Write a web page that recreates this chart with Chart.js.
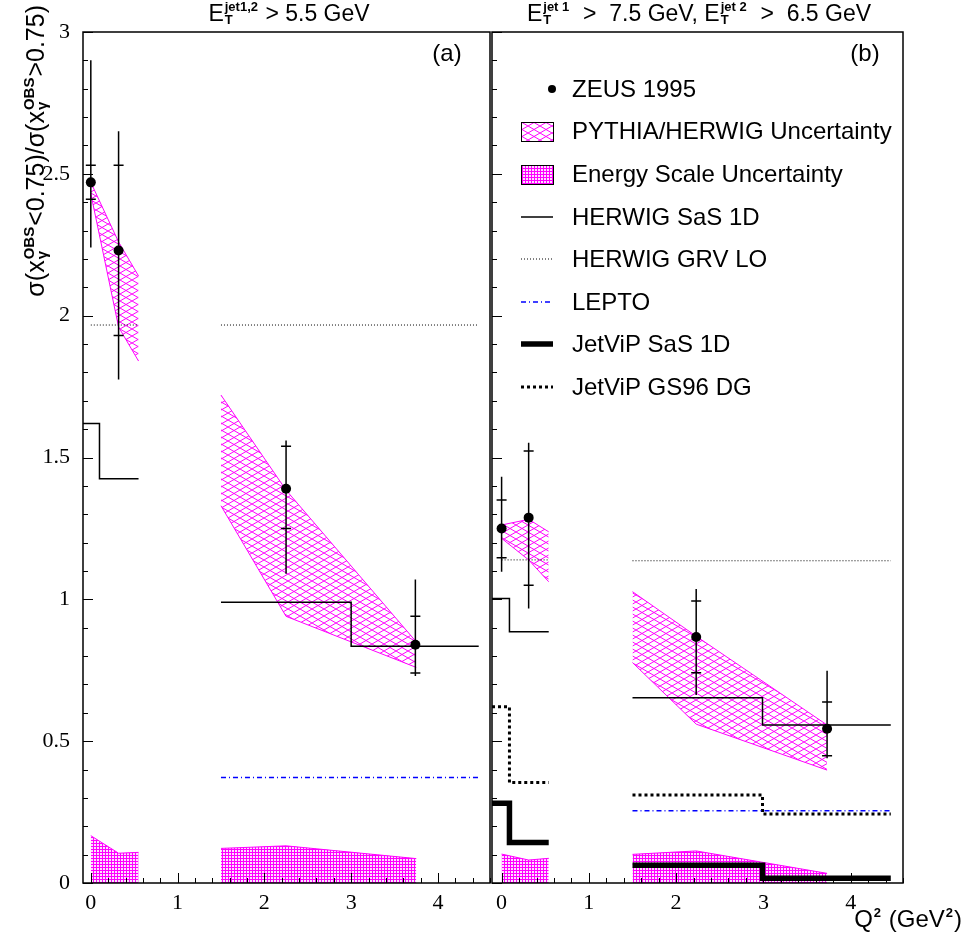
<!DOCTYPE html>
<html>
<head>
<meta charset="utf-8">
<script src="https://cdn.jsdelivr.net/npm/chart.js@4.4.0/dist/chart.umd.min.js"></script>
<style>
  body { margin: 0; background: #fff; }
  #wrap { position: relative; width: 965px; height: 945px; }
  canvas { position: absolute; top: 0; }
  #chartA { left: 0; }
  #chartB { left: 480px; }
</style>
</head>
<body>
<div id="wrap">
  <canvas id="chartA" width="495" height="945"></canvas>
  <canvas id="chartB" width="485" height="945"></canvas>
</div>
<script>
// ---- panel (a): E_T^jet1,2 > 5.5 GeV ----
const zeusA_q2 = [0, 0.32, 2.25, 3.74];
const zeusA_r = [2.47, 2.23, 1.39, 0.84];
const zeusA_statLo = [2.41, 1.93, 1.25, 0.74];
const zeusA_statHi = [2.53, 2.53, 1.54, 0.94];
const zeusA_totLo = [2.24, 1.775, 1.09, 0.73];
const zeusA_totHi = [2.90, 2.65, 1.56, 1.07];

const pyA_q2_1 = [0, 0.32, 0.55];
const pyA_hi_1 = [2.47, 2.26, 2.14];
const pyA_lo_1 = [2.43, 1.96, 1.84];
const pyA_q2_2 = [1.5, 2.25, 3.75];
const pyA_hi_2 = [1.72, 1.385, 0.85];
const pyA_lo_2 = [1.33, 0.94, 0.76];

const esA_q2_1 = [0, 0.32, 0.55];
const esA_hi_1 = [0.167, 0.105, 0.108];
const esA_q2_2 = [1.5, 2.25, 3.75];
const esA_hi_2 = [0.122, 0.131, 0.086];

// histogram style predictions: bin edges + bin values
const sasA_edges_1 = [-0.09, 0.1, 0.55];
const sasA_vals_1 = [1.62, 1.425];
const sasA_edges_2 = [1.5, 3.0, 4.47];
const sasA_vals_2 = [0.99, 0.835];
const grvA_edges_1 = [0, 0.55];
const grvA_vals_1 = [1.967];
const grvA_edges_2 = [1.5, 4.47];
const grvA_vals_2 = [1.967];
const leptoA_edges_2 = [1.5, 4.47];
const leptoA_vals_2 = [0.372];

// ---- panel (b): E_T^jet1 > 7.5 GeV, E_T^jet2 > 6.5 GeV ----
const zeusB_q2 = [0, 0.31, 2.23, 3.73];
const zeusB_r = [1.25, 1.288, 0.867, 0.544];
const zeusB_statLo = [1.147, 1.05, 0.741, 0.449];
const zeusB_statHi = [1.35, 1.523, 0.994, 0.638];
const zeusB_totLo = [1.097, 0.968, 0.663, 0.44];
const zeusB_totHi = [1.432, 1.552, 1.036, 0.748];

const pyB_q2_1 = [0, 0.31, 0.54];
const pyB_hi_1 = [1.262, 1.282, 1.238];
const pyB_lo_1 = [1.215, 1.139, 1.062];
const pyB_q2_2 = [1.5, 2.23, 3.73];
const pyB_hi_2 = [1.027, 0.87, 0.557];
const pyB_lo_2 = [0.777, 0.56, 0.398];

const esB_q2_1 = [0, 0.31, 0.54];
const esB_hi_1 = [0.102, 0.081, 0.087];
const esB_q2_2 = [1.5, 2.23, 3.73];
const esB_hi_2 = [0.101, 0.113, 0.034];

const sasB_edges_1 = [-0.11, 0.09, 0.54];
const sasB_vals_1 = [1.003, 0.886];
const sasB_edges_2 = [1.5, 2.99, 4.46];
const sasB_vals_2 = [0.653, 0.557];
const grvB_edges_1 = [0, 0.54];
const grvB_vals_1 = [1.139];
const grvB_edges_2 = [1.5, 4.46];
const grvB_vals_2 = [1.136];
const leptoB_edges_2 = [1.5, 4.46];
const leptoB_vals_2 = [0.255];
const jvSasB_edges_1 = [-0.11, 0.09, 0.54];
const jvSasB_vals_1 = [0.281, 0.143];
const jvSasB_edges_2 = [1.5, 2.99, 4.46];
const jvSasB_vals_2 = [0.063, 0.017];
const jvGsB_edges_1 = [-0.11, 0.09, 0.54];
const jvGsB_vals_1 = [0.621, 0.354];
const jvGsB_edges_2 = [1.5, 2.99, 4.46];
const jvGsB_vals_2 = [0.310, 0.243];

const legendLabels = ['ZEUS 1995', 'PYTHIA/HERWIG Uncertainty', 'Energy Scale Uncertainty',
  'HERWIG SaS 1D', 'HERWIG GRV LO', 'LEPTO', 'JetViP SaS 1D', 'JetViP GS96 DG'];

const MAGENTA = '#ff00ff';
const SANS = '"Liberation Sans", Arial, sans-serif';
const SERIF = '"Liberation Serif", "Times New Roman", serif';

const STY = {
  sas: { borderColor: '#000', borderWidth: 1.5, borderDash: [] },
  grv: { borderColor: '#000', borderWidth: 1, borderDash: [1, 2] },
  lepto: { borderColor: '#0000ff', borderWidth: 1.5, borderDash: [5, 3, 1, 3] },
  jvSas: { borderColor: '#000', borderWidth: 5.5, borderDash: [] },
  jvGs: { borderColor: '#000', borderWidth: 3, borderDash: [3, 3] }
};

function crossHatch(ctx) {
  const c = document.createElement('canvas');
  c.width = 12; c.height = 7;
  const g = c.getContext('2d');
  g.strokeStyle = MAGENTA; g.lineWidth = 1;
  g.beginPath(); g.moveTo(0, 0); g.lineTo(12, 7); g.moveTo(0, 7); g.lineTo(12, 0); g.stroke();
  return ctx.createPattern(c, 'repeat');
}

function gridHatch(ctx) {
  const c = document.createElement('canvas');
  c.width = 3; c.height = 3;
  const g = c.getContext('2d');
  g.fillStyle = '#fde0fd'; g.fillRect(0, 0, 3, 3);
  g.fillStyle = MAGENTA; g.fillRect(0, 0, 3, 1); g.fillRect(0, 0, 1, 3);
  return ctx.createPattern(c, 'repeat');
}

const pts = (xs, ys) => xs.map((x, i) => ({ x, y: ys[i] }));
function histPts(edges, vals) {
  const p = [];
  vals.forEach((v, i) => { p.push({ x: edges[i], y: v }, { x: edges[i + 1], y: v }); });
  return p;
}

function zeusSet(xs, ys, statLo, statHi, totLo, totHi) {
  return { data: pts(xs, ys), showLine: false, pointRadius: 5, pointBackgroundColor: '#000',
    pointBorderWidth: 0, errors: { statLo, statHi, totLo, totHi } };
}
function bandSets(xs, hi, lo, pattern) {
  return [
    { data: pts(xs, hi), borderColor: MAGENTA, borderWidth: 1, pointRadius: 0, fill: '+1', backgroundColor: pattern },
    { data: pts(xs, lo), borderColor: MAGENTA, borderWidth: 1, pointRadius: 0, fill: false }
  ];
}
function energySet(xs, hi, pattern) {
  return { data: pts(xs, hi), borderColor: MAGENTA, borderWidth: 1, pointRadius: 0, fill: 'origin', backgroundColor: pattern };
}
function histSet(edges, vals, style) {
  return Object.assign({ data: histPts(edges, vals), pointRadius: 0, fill: false }, style);
}

// rich text with stacked super/subscripts
function richText(ctx, parts, x, y, size, align, smallScale) {
  const big = size + 'px ' + SANS;
  const small = 'bold ' + Math.round(size * (smallScale || 0.55)) + 'px ' + SANS;
  const widthOf = p => {
    if (typeof p === 'string') { ctx.font = big; return ctx.measureText(p).width; }
    ctx.font = small;
    return Math.max(ctx.measureText(p.sup || '').width, ctx.measureText(p.sub || '').width) + 2;
  };
  const total = parts.reduce((w, p) => w + widthOf(p), 0);
  let cx = align === 'center' ? x - total / 2 : align === 'right' ? x - total : x;
  ctx.textAlign = 'left';
  ctx.textBaseline = 'alphabetic';
  ctx.fillStyle = '#000';
  parts.forEach(p => {
    const w = widthOf(p);
    if (typeof p === 'string') {
      ctx.font = big; ctx.fillText(p, cx, y);
    } else {
      ctx.font = small;
      if (p.sup) ctx.fillText(p.sup, cx + 1, y - size * 0.42);
      if (p.sub) ctx.fillText(p.sub, cx + 1, y + size * 0.12);
    }
    cx += w;
  });
  return total;
}

const frameTicks = {
  id: 'frameTicks',
  afterDatasetsDraw(chart) {
    const { ctx, chartArea: a, scales: { x, y } } = chart;
    ctx.save();
    ctx.strokeStyle = '#000';
    ctx.setLineDash([]);
    ctx.lineWidth = 1.5;
    ctx.strokeRect(a.left, a.top, a.right - a.left, a.bottom - a.top);
    ctx.lineWidth = 1;
    ctx.beginPath();
    for (let i = 0; i <= 30; i++) {
      const py = Math.round(y.getPixelForValue(i / 10)) + 0.5;
      const len = i % 5 === 0 ? 10 : 5;
      ctx.moveTo(a.left, py); ctx.lineTo(a.left + len, py);
    }
    for (let i = 0; i <= 23; i++) {
      const v = i / 5;
      if (v < x.min || v > x.max) continue;
      const px = Math.round(x.getPixelForValue(v)) + 0.5;
      const len = i % 5 === 0 ? 10 : 5;
      ctx.moveTo(px, a.bottom); ctx.lineTo(px, a.bottom - len);
    }
    ctx.stroke();
    ctx.restore();
  }
};

const errorBars = {
  id: 'errorBars',
  beforeDatasetDraw(chart, args) {
    const ds = chart.data.datasets[args.index];
    if (!ds.errors) return;
    const { ctx, scales: { x, y } } = chart;
    const e = ds.errors;
    ctx.save();
    ctx.strokeStyle = '#000';
    ctx.lineWidth = 1.5;
    ds.data.forEach((p, i) => {
      const px = x.getPixelForValue(p.x);
      ctx.beginPath();
      ctx.moveTo(px, y.getPixelForValue(e.totLo[i]));
      ctx.lineTo(px, y.getPixelForValue(e.totHi[i]));
      [e.statLo[i], e.statHi[i]].forEach(v => {
        const py = y.getPixelForValue(v);
        ctx.moveTo(px - 5, py); ctx.lineTo(px + 5, py);
      });
      ctx.stroke();
    });
    ctx.restore();
  }
};

function scales(showY, xmin) {
  return {
    x: {
      type: 'linear', min: xmin, max: 4.6,
      afterFit: s => { s.height = 62; },
      grid: { display: false, drawTicks: false }, border: { display: false },
      ticks: { stepSize: 1, includeBounds: false, autoSkip: false, maxRotation: 0, padding: 7,
        color: '#000', font: { family: SERIF, size: 22 }, callback: v => String(v) }
    },
    y: {
      type: 'linear', min: 0, max: 3, display: showY,
      afterFit: s => { s.width = showY ? 83 : 0; },
      grid: { display: false, drawTicks: false }, border: { display: false },
      ticks: { stepSize: 0.5, padding: 13, color: '#000', font: { family: SERIF, size: 22 },
        callback: v => String(v) }
    }
  };
}

const commonOpts = { responsive: false, animation: false, events: [],
  plugins: { legend: { display: false }, tooltip: { enabled: false } } };

// ---- chart (a) ----
const ctxA = document.getElementById('chartA').getContext('2d');
const crossA = crossHatch(ctxA), gridA = gridHatch(ctxA);

const textA = {
  id: 'textA',
  afterDraw(chart) {
    const ctx = chart.ctx;
    ctx.save();
    richText(ctx, ['E', { sup: 'jet1,2', sub: 'T' }, ' > 5.5 GeV'], 289, 21, 23, 'center');
    ctx.font = '24px ' + SANS; ctx.textAlign = 'center'; ctx.textBaseline = 'middle';
    ctx.fillText('(a)', 447, 54);
    ctx.translate(44, 5);
    ctx.rotate(-Math.PI / 2);
    richText(ctx, ['σ(x', { sup: 'OBS', sub: 'γ' }, '<0.75)/σ(x', { sup: 'OBS', sub: 'γ' }, '>0.75)'], 0, 0, 25, 'right', 0.6);
    ctx.restore();
  }
};

new Chart(ctxA, {
  type: 'line',
  data: {
    datasets: [
      zeusSet(zeusA_q2, zeusA_r, zeusA_statLo, zeusA_statHi, zeusA_totLo, zeusA_totHi),
      histSet(sasA_edges_1, sasA_vals_1, STY.sas),
      histSet(sasA_edges_2, sasA_vals_2, STY.sas),
      histSet(grvA_edges_1, grvA_vals_1, STY.grv),
      histSet(grvA_edges_2, grvA_vals_2, STY.grv),
      histSet(leptoA_edges_2, leptoA_vals_2, STY.lepto),
      ...bandSets(pyA_q2_1, pyA_hi_1, pyA_lo_1, crossA),
      ...bandSets(pyA_q2_2, pyA_hi_2, pyA_lo_2, crossA),
      energySet(esA_q2_1, esA_hi_1, gridA),
      energySet(esA_q2_2, esA_hi_2, gridA)
    ]
  },
  options: Object.assign({}, commonOpts, {
    layout: { padding: { top: 32, right: 3, left: 0, bottom: 0 } },
    scales: scales(true, -0.09)
  }),
  plugins: [errorBars, frameTicks, textA]
});

// ---- chart (b) ----
const OFF_B = 480;
const ctxB = document.getElementById('chartB').getContext('2d');
const crossB = crossHatch(ctxB), gridB = gridHatch(ctxB);

const textB = {
  id: 'textB',
  afterDraw(chart) {
    const ctx = chart.ctx;
    ctx.save();
    ctx.translate(-OFF_B, 0);
    richText(ctx, ['E', { sup: 'jet 1', sub: 'T' }, '  >  7.5 GeV, E', { sup: 'jet 2', sub: 'T' }, '  >  6.5 GeV'], 699, 21, 23, 'center');
    ctx.font = '24px ' + SANS; ctx.textAlign = 'center'; ctx.textBaseline = 'middle';
    ctx.fillText('(b)', 865, 54);
    richText(ctx, ['Q', { sup: '2' }, ' (GeV', { sup: '2' }, ')'], 962, 927, 24, 'right', 0.55);

    // legend
    const rows = [89, 131, 174, 217, 259, 302, 344, 387];
    const x0 = 521, x1 = 553;
    legendLabels.forEach((lab, i) => {
      const yy = rows[i];
      ctx.setLineDash([]);
      if (i === 0) {
        ctx.fillStyle = '#000';
        ctx.beginPath(); ctx.arc(552, yy, 4, 0, Math.PI * 2); ctx.fill();
      } else if (i === 1 || i === 2) {
        ctx.fillStyle = i === 1 ? crossB : gridB;
        ctx.fillRect(x0, yy - 9, x1 - x0, 19);
        ctx.strokeStyle = '#000'; ctx.lineWidth = 1;
        ctx.strokeRect(x0 + 0.5, yy - 9 + 0.5, x1 - x0, 19);
      } else {
        const st = [STY.sas, STY.grv, STY.lepto, STY.jvSas, STY.jvGs][i - 3];
        ctx.strokeStyle = st.borderColor; ctx.lineWidth = st.borderWidth;
        ctx.setLineDash(st.borderDash);
        ctx.beginPath(); ctx.moveTo(x0, yy); ctx.lineTo(x1, yy); ctx.stroke();
      }
      ctx.setLineDash([]);
      ctx.fillStyle = '#000';
      ctx.font = '24px ' + SANS; ctx.textAlign = 'left'; ctx.textBaseline = 'middle';
      ctx.fillText(lab, 572, yy + 1);
    });
    ctx.restore();
  }
};

new Chart(ctxB, {
  type: 'line',
  data: {
    datasets: [
      zeusSet(zeusB_q2, zeusB_r, zeusB_statLo, zeusB_statHi, zeusB_totLo, zeusB_totHi),
      histSet(sasB_edges_1, sasB_vals_1, STY.sas),
      histSet(sasB_edges_2, sasB_vals_2, STY.sas),
      histSet(grvB_edges_1, grvB_vals_1, STY.grv),
      histSet(grvB_edges_2, grvB_vals_2, STY.grv),
      histSet(leptoB_edges_2, leptoB_vals_2, STY.lepto),
      histSet(jvSasB_edges_1, jvSasB_vals_1, STY.jvSas),
      histSet(jvSasB_edges_2, jvSasB_vals_2, STY.jvSas),
      histSet(jvGsB_edges_1, jvGsB_vals_1, STY.jvGs),
      histSet(jvGsB_edges_2, jvGsB_vals_2, STY.jvGs),
      ...bandSets(pyB_q2_1, pyB_hi_1, pyB_lo_1, crossB),
      ...bandSets(pyB_q2_2, pyB_hi_2, pyB_lo_2, crossB),
      energySet(esB_q2_1, esB_hi_1, gridB),
      energySet(esB_q2_2, esB_hi_2, gridB)
    ]
  },
  options: Object.assign({}, commonOpts, {
    layout: { padding: { top: 32, right: 62, left: 12, bottom: 0 } },
    scales: scales(false, -0.11)
  }),
  plugins: [errorBars, frameTicks, textB]
});
</script>
</body>
</html>
